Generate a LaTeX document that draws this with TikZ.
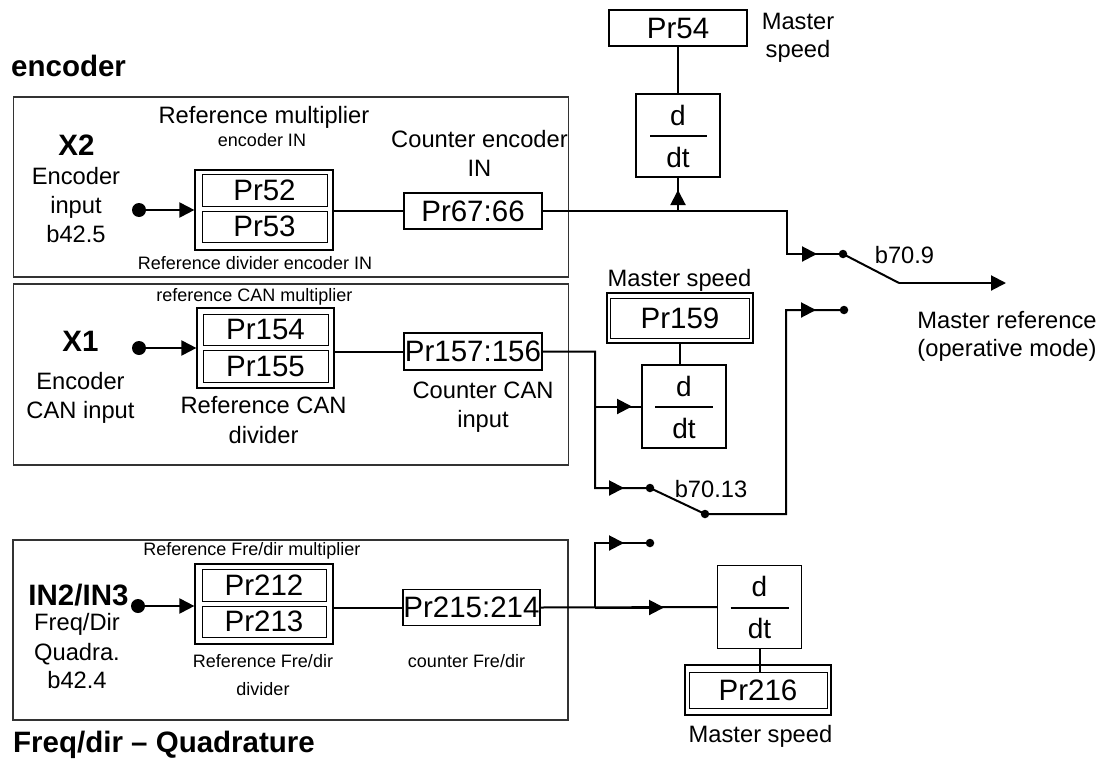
\documentclass[tikz,border=0pt]{standalone}
\usepackage{fontspec}
\setmainfont{Liberation Sans}
\usetikzlibrary{arrows.meta,calc}
\newcommand\fPr{\fontsize{29.5}{34}\selectfont}
\newcommand\fN{\fontsize{23.7}{28}\selectfont}
\newcommand\fS{\fontsize{18}{22}\selectfont}
\newcommand\fB{\fontsize{29.5}{34}\selectfont\bfseries}
\newcommand\fD{\fontsize{28}{32}\selectfont}
\begin{document}
\begin{tikzpicture}[x=1pt,y=-1pt,
  secbox/.style={draw=black!80, line width=1.3pt, inner sep=0pt},
  prbox/.style={draw, line width=1.2pt, inner sep=0pt, font=\fPr},
  innerbox/.style={draw, line width=1pt, inner sep=0pt, font=\fPr},
  outerbox/.style={draw, line width=1.2pt, inner sep=0pt},
  thickbox/.style={draw, line width=2.2pt, inner sep=0pt},
  ddtbox/.style={draw, line width=1.2pt, inner sep=0pt, minimum width=84pt, minimum height=83pt},
  dtxt/.style={inner sep=0pt, anchor=base, font=\fD},
  txt/.style={inner sep=0pt, anchor=base, font=\fN},
  stxt/.style={inner sep=0pt, anchor=base, font=\fS},
  btxt/.style={inner sep=0pt, anchor=base, font=\fB},
  bigdot/.style={circle, fill, inner sep=0pt, minimum size=14pt},
  smalldot/.style={circle, fill, inner sep=0pt, minimum size=8.5pt},
  sig/.style={line width=2pt},
  arr/.style={line width=2pt, -{Triangle[length=15pt,width=15pt]}},
]
\fill[white] (0,0) rectangle (1102,760);
\useasboundingbox (0,0) rectangle (1102,760);

% ---------- section frames ----------
\node[secbox, minimum width=555pt, minimum height=180pt] (sec1) at (291,187) {};
\node[secbox, minimum width=555pt, minimum height=181pt] (sec2) at (291,374.5) {};
\node[secbox, minimum width=555pt, minimum height=180pt] (sec3) at (290.5,630) {};

% ---------- titles ----------
\node[btxt, anchor=base west] (tEnc) at (11,77) {encoder};
\node[btxt, anchor=base west] (tFreq) at (13,752) {Freq/dir – Quadrature};

% ---------- section 1 ----------
\node[btxt] (x2) at (76.5,155) {X2};
\node[txt] (x2a) at (76,184) {Encoder};
\node[txt] (x2b) at (76,213) {input};
\node[txt] (x2c) at (76,242) {b42.5};
\node[txt] (rm1) at (264,123) {Reference multiplier};
\node[stxt] (rm1b) at (262,146) {encoder IN};
\node[stxt] (rd1) at (255,269) {Reference divider encoder IN};
\node[txt] (ce1) at (479.5,147) {Counter encoder};
\node[txt] (ce1b) at (479.5,176) {IN};

\node[bigdot] (in1) at (139,210) {};
\node[outerbox, minimum width=138pt, minimum height=80pt] (mul1) at (264,210) {};
\node[innerbox, minimum width=125pt, minimum height=32pt] (pr52) at (264.5,190) {Pr52};
\node[innerbox, minimum width=125pt, minimum height=31pt] (pr53) at (264.5,226.5) {Pr53};
\node[prbox, minimum width=138pt, minimum height=36pt] (pr67) at (473,211) {Pr67:66};
\node[prbox, minimum width=138pt, minimum height=36pt] (pr54) at (678,28) {Pr54};
\node[txt] (ms1) at (798,30) {Master};
\node[txt] (ms1b) at (798,58) {speed};
\node[ddtbox] (ddt1) at (678,135.5) {};
\node[dtxt] (d1) at ($(ddt1.center)+(0,-10.5)$) {d};
\node[dtxt] (dt1) at ($(ddt1.center)+(0,31.5)$) {dt};
\draw[line width=2pt] ($(ddt1.center)+(-28,0.5)$) -- ($(ddt1.center)+(29,0.5)$);

\draw[arr] (in1) -- (in1 -| mul1.west);
\draw[sig] (pr67.west -| mul1.east) -- (pr67.west);

\coordinate (j1) at (678,211);
\coordinate (t1) at (678,190);
\coordinate (c1) at (787,211);
\coordinate (c1b) at (787,254);
\coordinate (a1) at (817,254);
\node[smalldot] (s1a) at (843,254) {};
\coordinate (s1b) at (899,283);
\coordinate (out1) at (1006,283);
\draw[sig] (pr67.east) -- (c1) -- (c1b) -- (s1a.center);
\draw[arr] (c1b) -- (a1);
\draw[sig] (j1) -- (ddt1.south);
\draw[arr] (j1) -- (t1);
\draw[sig] (pr54.south) -- (ddt1.north);
\draw[sig] (s1a.center) -- (s1b);
\draw[arr] (s1b) -- (out1);
\node[txt] (b709) at (904.5,263) {b70.9};
\node[txt] (mr) at (1007,328) {Master reference};
\node[txt] (mr2) at (1007,356) {(operative mode)};

% ---------- section 2 ----------
\node[stxt] (rcm) at (254.5,301) {reference CAN multiplier};
\node[btxt] (x1) at (80.5,351) {X1};
\node[txt] (x1a) at (80.5,389) {Encoder};
\node[txt] (x1b) at (80.5,418) {CAN input};
\node[bigdot] (in2) at (139,348) {};
\node[outerbox, minimum width=137pt, minimum height=80pt] (mul2) at (265.5,348) {};
\node[innerbox, minimum width=125pt, minimum height=31pt] (pr154) at (265.5,329.5) {Pr154};
\node[innerbox, minimum width=125pt, minimum height=32pt] (pr155) at (265.5,366) {Pr155};
\node[txt] (rcd) at (263.5,413) {Reference CAN};
\node[txt] (rcd2) at (263.5,443) {divider};
\node[prbox, minimum width=138pt, minimum height=37pt] (pr157) at (473,351.5) {Pr157:156};
\node[txt] (cc) at (483,398) {Counter CAN};
\node[txt] (cc2) at (483,427) {input};
\node[txt] (ms2) at (679.5,286) {Master speed};
\node[thickbox, minimum width=146pt, minimum height=50pt] (pr159o) at (680,318) {};
\node[innerbox, minimum width=139pt, minimum height=40pt] (pr159) at (680,318) {Pr159};
\node[ddtbox] (ddt2) at (684,406.5) {};
\node[dtxt] (d2) at ($(ddt2.center)+(0,-10.5)$) {d};
\node[dtxt] (dt2) at ($(ddt2.center)+(0,31.5)$) {dt};
\draw[line width=2pt] ($(ddt2.center)+(-29,0.5)$) -- ($(ddt2.center)+(29,0.5)$);

\draw[arr] (in2) -- (in2 -| mul2.west);
\draw[sig] (pr157.west -| mul2.east) -- (pr157.west);
\draw[sig] (pr159o.south) -- (pr159o.south |- ddt2.north);

\coordinate (j2) at (595,351.5);
\coordinate (j2b) at (595,406.5);
\coordinate (a2b) at (632,406.5);
\coordinate (c2) at (595,488);
\coordinate (a2) at (624,488);
\node[smalldot] (s2a) at (650,488) {};
\node[smalldot] (s2b) at (705,514) {};
\coordinate (c2b) at (786,514);
\coordinate (c2c) at (786,310);
\coordinate (a2c) at (816,310);
\node[smalldot] (s2c) at (844,310) {};
\draw[sig] (pr157.east) -- (j2) -- (c2) -- (s2a.center) -- (s2b.center) -- (c2b) -- (c2c) -- (s2c.center);
\draw[sig] (j2b) -- (ddt2.west);
\draw[arr] (j2b) -- (a2b);
\draw[arr] (c2) -- (a2);
\draw[arr] (c2c) -- (a2c);
\node[txt] (b7013) at (711,497) {b70.13};

% ---------- section 3 ----------
\node[stxt] (rfm) at (252,555) {Reference Fre/dir multiplier};
\node[btxt] (in23) at (78.5,605) {IN2/IN3};
\node[txt] (fd) at (77,630) {Freq/Dir};
\node[txt] (qd) at (77,660) {Quadra.};
\node[txt] (b424) at (77,688) {b42.4};
\node[bigdot] (in3) at (138,606) {};
\node[outerbox, minimum width=138pt, minimum height=80pt] (mul3) at (264,604) {};
\node[innerbox, minimum width=124pt, minimum height=32pt] (pr212) at (264,585) {Pr212};
\node[innerbox, minimum width=124pt, minimum height=31pt] (pr213) at (264,621.5) {Pr213};
\node[stxt] (rfd) at (263,667) {Reference Fre/dir};
\node[stxt] (rfd2) at (263,695) {divider};
\node[prbox, minimum width=137pt, minimum height=36pt] (pr215) at (471.5,607.5) {Pr215:214};
\node[stxt] (cfd) at (466.5,667) {counter Fre/dir};
\node[ddtbox] (ddt3) at (759.5,607) {};
\node[dtxt] (d3) at ($(ddt3.center)+(0,-10.5)$) {d};
\node[dtxt] (dt3) at ($(ddt3.center)+(0,31.5)$) {dt};
\draw[line width=2pt] ($(ddt3.center)+(-29,0.5)$) -- ($(ddt3.center)+(29,0.5)$);
\node[thickbox, minimum width=146pt, minimum height=50pt] (pr216o) at (758,690) {};
\node[innerbox, minimum width=138pt, minimum height=36pt] (pr216) at (758,690) {Pr216};
\node[txt] (ms3) at (760.5,742) {Master speed};

\draw[arr] (in3) -- (in3 -| mul3.west);
\draw[sig] (pr215.west -| mul3.east) -- (pr215.west);
\coordinate (j3) at (595,607.5);
\coordinate (a3) at (664,607.5);
\coordinate (c3) at (595,543);
\coordinate (a3b) at (624,543);
\node[smalldot] (s3) at (650,543) {};
\draw[sig] (pr215.east) -- (ddt3.west);
\draw[arr] (j3) -- (a3);
\draw[sig] (j3) -- (c3) -- (s3.center);
\draw[arr] (c3) -- (a3b);
\draw[sig] (ddt3.south) -- (ddt3.south |- pr216.north);
\end{tikzpicture}
\end{document}
